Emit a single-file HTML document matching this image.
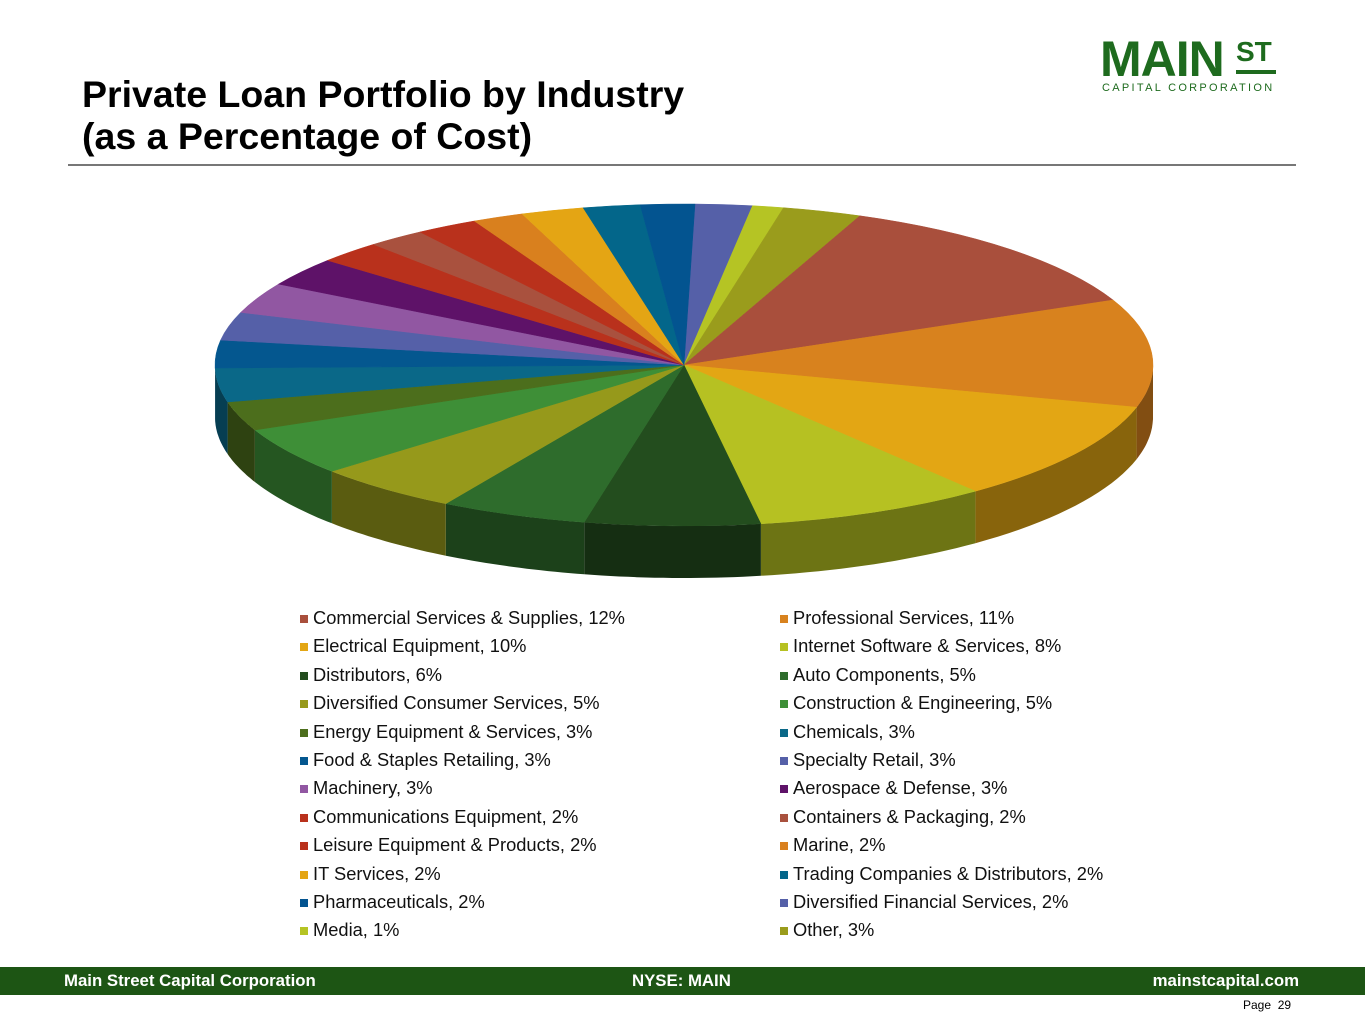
<!DOCTYPE html>
<html><head><meta charset="utf-8"><style>
body{margin:0;width:1365px;height:1024px;background:#fff;position:relative;overflow:hidden;font-family:"Liberation Sans",Arial,sans-serif}
.t{position:absolute;left:82px;top:73px;font-size:37.5px;font-weight:bold;line-height:42px;color:#000}
.hr{position:absolute;left:68px;top:164px;width:1228px;height:2px;background:#777}
.logo{position:absolute;left:1100px;top:34px;color:#1e6b1e}
.lg{position:absolute;font-size:18.3px;color:#111;white-space:nowrap}
.lg i{display:inline-block;width:8px;height:8px;margin-right:5px;vertical-align:1px}
.foot{position:absolute;left:0;top:967px;width:1365px;height:28px;background:#1d5514;color:#fff;font-weight:bold;font-size:16.8px}
.foot span{position:absolute;top:4px}
</style></head><body>
<div class="t">Private Loan Portfolio by Industry<br>(as a Percentage of Cost)</div>
<div class="hr"></div>
<div class="logo">
<div style="position:absolute;left:0;top:0;font-size:50px;font-weight:bold;letter-spacing:-1px;line-height:50px">MAIN</div>
<div style="position:absolute;left:136px;top:4px;font-size:28px;font-weight:bold;line-height:28px">ST</div>
<div style="position:absolute;left:136px;top:36px;width:40px;height:4px;background:#1e6b1e"></div>
<div style="position:absolute;left:2px;top:48px;font-size:11px;letter-spacing:2.3px;white-space:nowrap">CAPITAL CORPORATION</div>
</div>
<svg id="pie" width="1365" height="1024" style="position:absolute;left:0;top:0"></svg>
<div id="leg"></div>
<div class="foot"><span style="left:64px">Main Street Capital Corporation</span><span style="left:632px">NYSE: MAIN</span><span style="right:66px">mainstcapital.com</span></div>
<div style="position:absolute;left:1243px;top:998px;font-size:12px;color:#000">Page &nbsp;29</div>
<script>
(function(){
var cx=684,cy=365,rx=469,ry=161,D=52;
var pts=[[695,204],[752,207],[782,210],[862,214],[1113,300],[1135,407],[975,491],[760,522],[585,521],[447,503],[333,471],[255,430],[228,402],[216,368],[218,340],[237,312],[283,285],[333,262],[375,245],[420,232],[470,218],[520,212],[582,206],[640,204]];
var cols=["#5560a8","#b5c424","#9a9c1c","#a94f3c","#d8821e","#e3a614","#b6c122","#234d1e","#2e6c2c","#96991b","#3e8f37","#4c6e1c","#0a6888","#04578f","#5560a8","#9157a2","#5e1268","#b9311c","#a9513e","#b9311c","#d9801e","#e4a514","#03668a","#035490"];
function ang(p){return Math.atan2((p[1]-cy)/ry,(p[0]-cx)/rx);}
var ts=pts.map(ang);
function P(t,d){return [cx+rx*Math.cos(t),cy+ry*Math.sin(t)+(d||0)];}
function dark(c,f){var n=parseInt(c.slice(1),16);var r=(n>>16)*f,g=((n>>8)&255)*f,b=(n&255)*f;return "rgb("+[r,g,b].map(Math.round).join(",")+")";}
var side="",tops="";
for(var i=0;i<ts.length;i++){
 var a=ts[i],b=ts[(i+1)%ts.length];while(b<=a)b+=2*Math.PI;
 for(var k=-1;k<=1;k++){var lo=Math.max(a,k*2*Math.PI),hi=Math.min(b,k*2*Math.PI+Math.PI);
  if(hi>lo){var s="";for(var j=0;j<=20;j++){var t=lo+(hi-lo)*j/20,q=P(t);s+=(j?"L":"M")+q[0].toFixed(1)+","+q[1].toFixed(1);}
   for(var j=20;j>=0;j--){var t=lo+(hi-lo)*j/20,q=P(t,D);s+="L"+q[0].toFixed(1)+","+q[1].toFixed(1);}
   side+='<path d="'+s+'Z" fill="'+dark(cols[i],0.6)+'"/>';}}
 var p1=P(a),p2=P(b);var lg=(b-a)>Math.PI?1:0;
 tops+='<path d="M'+cx+','+cy+'L'+p1[0].toFixed(1)+','+p1[1].toFixed(1)+'A'+rx+','+ry+' 0 '+lg+' 1 '+p2[0].toFixed(1)+','+p2[1].toFixed(1)+'Z" fill="'+cols[i]+'" stroke="'+cols[i]+'" stroke-width="0.5"/>';
}
document.getElementById('pie').innerHTML=side+tops;
var L=[["#a94f3c","Commercial Services & Supplies, 12%"],["#d8821e","Professional Services, 11%"],["#e3a614","Electrical Equipment, 10%"],["#b6c122","Internet Software & Services, 8%"],["#234d1e","Distributors, 6%"],["#2e6c2c","Auto Components, 5%"],["#96991b","Diversified Consumer Services, 5%"],["#3e8f37","Construction & Engineering, 5%"],["#4c6e1c","Energy Equipment & Services, 3%"],["#0a6888","Chemicals, 3%"],["#04578f","Food & Staples Retailing, 3%"],["#5560a8","Specialty Retail, 3%"],["#9157a2","Machinery, 3%"],["#5e1268","Aerospace & Defense, 3%"],["#b9311c","Communications Equipment, 2%"],["#a9513e","Containers & Packaging, 2%"],["#b9311c","Leisure Equipment & Products, 2%"],["#d9801e","Marine, 2%"],["#e4a514","IT Services, 2%"],["#03668a","Trading Companies & Distributors, 2%"],["#035490","Pharmaceuticals, 2%"],["#5560a8","Diversified Financial Services, 2%"],["#b5c424","Media, 1%"],["#9a9c1c","Other, 3%"]];
var h="";L.forEach(function(e,i){var x=i%2?780:300,y=607+Math.floor(i/2)*28.4;h+='<div class="lg" style="left:'+x+'px;top:'+y+'px"><i style="background:'+e[0]+'"></i>'+e[1].replace(/&/g,'&amp;')+'</div>';});
document.getElementById('leg').innerHTML=h;
})();
</script>
</body></html>
